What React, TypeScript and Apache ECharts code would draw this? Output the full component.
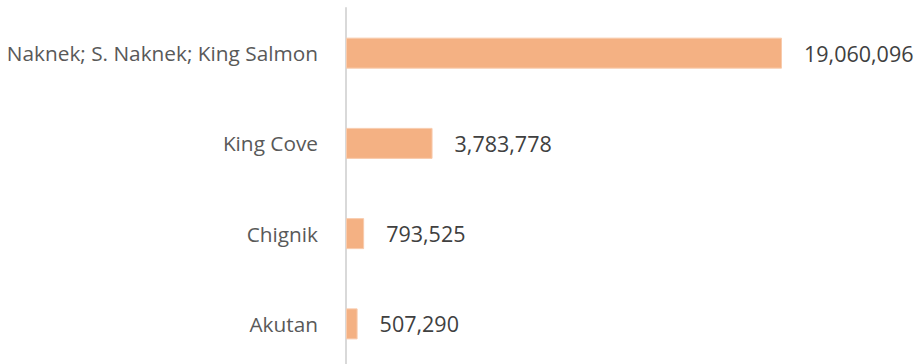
import React, { useEffect, useRef } from "react";
import * as echarts from "echarts";

const categories = ["Akutan", "Chignik", "King Cove", "Naknek; S. Naknek; King Salmon"];
const values = [507290, 793525, 3783778, 19060096];

export default function App() {
  const ref = useRef<HTMLDivElement>(null);
  useEffect(() => {
    document.body.style.margin = "0";
    const chart = echarts.init(ref.current!, null, { renderer: "svg" });
    chart.setOption({
      animation: false,
      grid: { left: 346, top: 8, width: 457.5, height: 361, containLabel: false },
      xAxis: {
        type: "value",
        min: 0,
        max: 20000000,
        show: false,
      },
      yAxis: {
        type: "category",
        data: categories,
        axisLine: { show: true, lineStyle: { color: "#D9D9D9", width: 2 } },
        axisTick: { show: false },
        axisLabel: {
          color: "#595959",
          fontSize: 20.8,
          fontFamily: "Open Sans",
          margin: 28,
        },
      },
      series: [
        {
          type: "bar",
          data: values,
          barWidth: 31,
          itemStyle: { color: "#F4B183", borderColor: "#F8CBAD", borderWidth: 1 },
          label: {
            show: true,
            position: "right",
            distance: 22,
            color: "#404040",
            fontSize: 21.5,
            fontFamily: "Open Sans",
            formatter: (p: any) => p.value.toLocaleString("en-US"),
          },
        },
      ],
    });
    return () => chart.dispose();
  }, []);
  return (
    <div style={{ width: 916, height: 364, overflow: "hidden" }}>
      <div ref={ref} style={{ width: 916, height: 376 }} />
    </div>
  );
}
